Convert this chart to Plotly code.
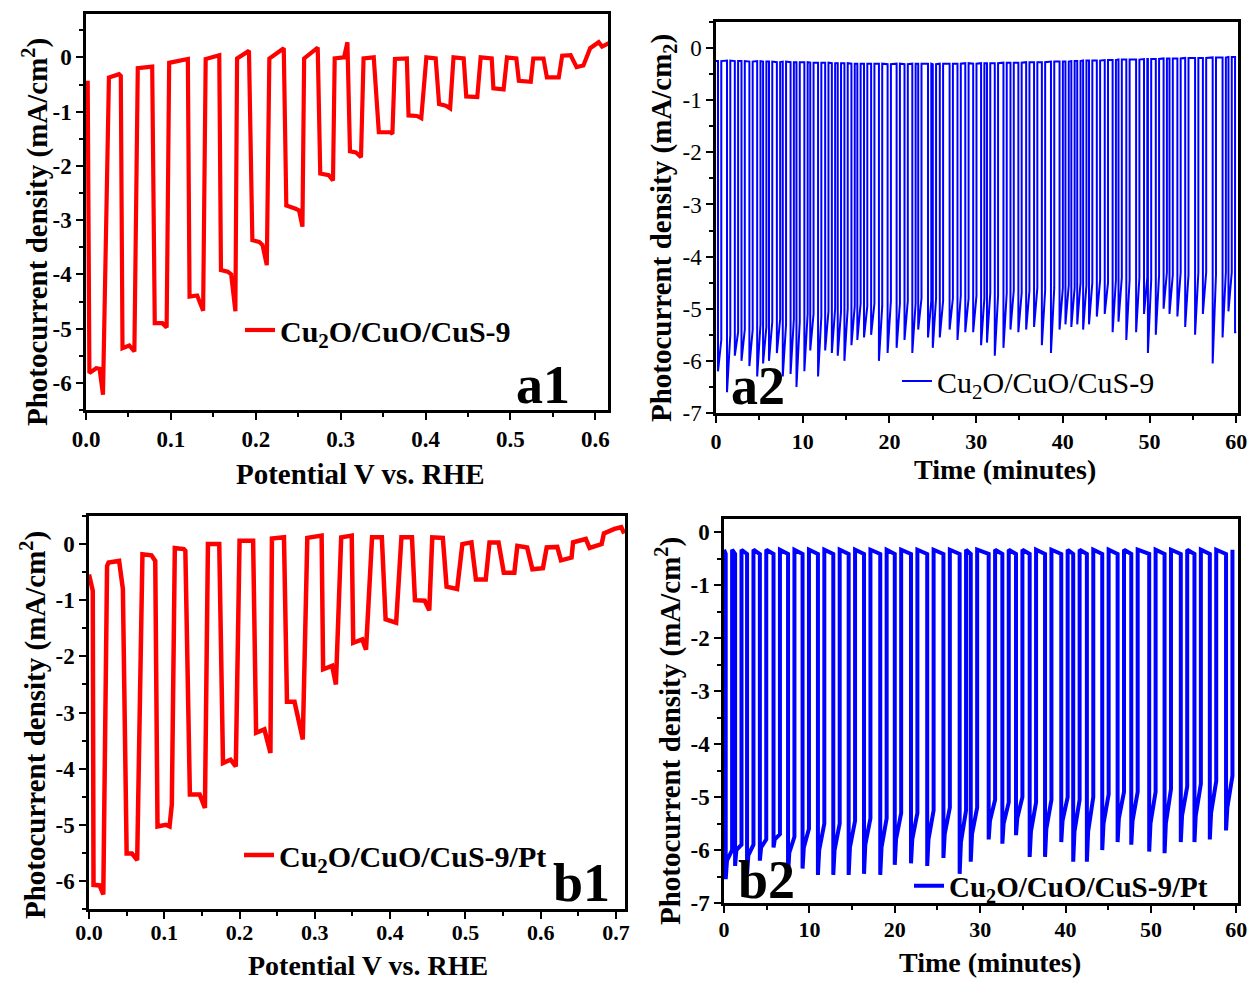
import plotly.graph_objects as go

# ---------------- data ----------------
# (a1) chopped-light LSV, Cu2O/CuO/CuS-9
a1_potential = [0.002, 0.004, 0.012, 0.016, 0.020, 0.027, 0.039, 0.041, 0.043, 0.051, 0.057,
                0.061, 0.078, 0.081, 0.090, 0.095, 0.098, 0.120, 0.122, 0.131, 0.138, 0.141,
                0.157, 0.159, 0.167, 0.171, 0.176, 0.178, 0.192, 0.196, 0.204, 0.208, 0.213,
                0.216, 0.233, 0.236, 0.247, 0.251, 0.255, 0.257, 0.273, 0.276, 0.286, 0.291,
                0.293, 0.304, 0.308, 0.311, 0.318, 0.324, 0.327, 0.339, 0.345, 0.359, 0.361,
                0.364, 0.378, 0.380, 0.390, 0.395, 0.401, 0.412, 0.416, 0.424, 0.429, 0.433,
                0.445, 0.448, 0.461, 0.465, 0.478, 0.480, 0.492, 0.496, 0.507, 0.510, 0.524,
                0.527, 0.539, 0.543, 0.557, 0.561, 0.571, 0.578, 0.586, 0.594, 0.604, 0.608,
                0.612, 0.618]
a1_current = [-0.43, -5.82, -5.73, -5.74, -6.22, -0.37, -0.31, -0.34, -5.36, -5.31, -5.42,
              -0.20, -0.17, -4.90, -4.90, -4.98, -0.10, -0.03, -4.41, -4.39, -4.67, -0.03,
              0.04, -3.92, -3.95, -4.00, -4.68, -0.02, 0.12, -3.37, -3.40, -3.46, -3.83,
              -0.02, 0.17, -2.73, -2.79, -2.82, -3.12, -0.02, 0.18, -2.14, -2.17, -2.27,
              -0.02, 0.00, 0.28, -1.73, -1.75, -1.84, -0.02, 0.00, -1.38, -1.38, -1.41,
              -0.03, -0.02, -1.07, -1.08, -1.12, 0.00, -0.02, -0.86, -0.89, -0.94, 0.00,
              -0.02, -0.72, -0.73, 0.00, -0.02, -0.57, -0.59, 0.00, -0.02, -0.43, -0.45,
              -0.02, -0.02, -0.37, -0.37, 0.03, 0.04, -0.18, -0.15, 0.17, 0.28, 0.20,
              0.23, 0.28]

# (b1) chopped-light LSV, Cu2O/CuO/CuS-9/Pt
b1_potential = [0.000, 0.005, 0.006, 0.014, 0.019, 0.024, 0.026, 0.040, 0.045, 0.050, 0.057,
                0.064, 0.071, 0.083, 0.088, 0.091, 0.102, 0.107, 0.110, 0.114, 0.126, 0.128,
                0.134, 0.147, 0.154, 0.158, 0.173, 0.178, 0.188, 0.195, 0.200, 0.218, 0.222,
                0.233, 0.241, 0.243, 0.259, 0.263, 0.273, 0.284, 0.290, 0.309, 0.311, 0.323,
                0.328, 0.335, 0.349, 0.351, 0.363, 0.368, 0.376, 0.389, 0.394, 0.408, 0.415,
                0.429, 0.433, 0.446, 0.452, 0.456, 0.470, 0.475, 0.489, 0.496, 0.508, 0.514,
                0.527, 0.532, 0.544, 0.551, 0.565, 0.569, 0.582, 0.589, 0.603, 0.608, 0.622,
                0.627, 0.641, 0.643, 0.660, 0.665, 0.681, 0.684, 0.698, 0.707, 0.711]
b1_current = [-0.54, -0.83, -6.07, -6.08, -6.24, -0.39, -0.33, -0.30, -0.80, -5.51, -5.51,
              -5.63, -0.18, -0.20, -0.30, -5.03, -5.00, -5.03, -4.64, -0.07, -0.09, -0.12,
              -4.46, -4.46, -4.70, 0.00, 0.00, -3.90, -3.84, -3.96, 0.06, 0.06, -3.36,
              -3.30, -3.72, 0.10, 0.12, -2.81, -2.81, -3.48, 0.11, 0.15, -2.23, -2.17,
              -2.50, 0.12, 0.15, -1.76, -1.70, -1.88, 0.12, 0.12, -1.34, -1.40, 0.12,
              0.12, -1.00, -1.01, -1.18, 0.12, 0.11, -0.76, -0.80, 0.00, 0.03, -0.63,
              -0.63, 0.03, 0.03, -0.51, -0.51, -0.03, -0.06, -0.45, -0.43, -0.06, -0.05,
              -0.29, -0.24, 0.03, 0.09, -0.07, 0.00, 0.19, 0.27, 0.30, 0.19]

# (a2) chronoamperometry under chopped light, Cu2O/CuO/CuS-9
a2_light_on = [0.23, 1.27, 2.17, 2.94, 3.85, 4.75, 5.43, 6.11, 7.02, 7.70, 8.60, 9.28, 10.19,
               10.87, 11.77, 12.59, 13.36, 14.04, 14.81, 15.62, 16.30, 17.07, 17.89, 18.79,
               19.79, 20.83, 21.74, 22.64, 23.32, 24.45, 25.00, 25.81, 26.94, 27.85, 28.75,
               29.66, 30.57, 31.25, 32.15, 33.15, 33.96, 34.87, 35.77, 36.68, 37.58, 38.63,
               39.62, 40.30, 40.98, 41.66, 42.34, 43.02, 43.92, 44.83, 45.74, 46.42, 47.32,
               48.45, 49.36, 49.81, 50.72, 51.62, 52.30, 53.21, 54.11, 55.25, 56.15, 57.28,
               58.42, 59.10, 59.86]
a2_spike = [-6.20, -6.60, -5.90, -6.00, -6.10, -6.30, -6.05, -6.00, -5.85, -6.30, -6.25, -6.50,
            -6.20, -5.80, -6.30, -5.80, -5.85, -5.90, -6.00, -5.70, -5.60, -5.55, -5.50, -6.00,
            -5.85, -5.75, -5.60, -5.85, -5.40, -5.55, -5.75, -5.55, -5.40, -5.60, -5.45, -5.45,
            -5.70, -5.65, -5.90, -5.75, -5.40, -5.45, -5.40, -5.35, -5.70, -5.85, -5.40, -5.30,
            -5.35, -5.30, -5.40, -5.30, -5.15, -5.10, -5.45, -5.25, -5.60, -5.45, -5.10, -5.85,
            -5.50, -5.00, -5.10, -5.15, -5.35, -5.50, -5.10, -6.05, -5.55, -5.05, -5.45]
a2_light_end = [-5.60, -5.50, -5.45, -5.40, -5.40, -5.30, -5.35, -5.25, -5.20, -5.30, -5.20,
                -5.25, -5.10, -5.10, -5.15, -5.05, -5.00, -5.05, -5.00, -4.95, -4.90, -4.95,
                -4.90, -4.95, -4.85, -4.90, -4.85, -4.90, -4.80, -4.85, -4.80, -4.85, -4.80,
                -4.75, -4.80, -4.75, -4.80, -4.70, -4.75, -4.70, -4.65, -4.70, -4.65, -4.60,
                -4.65, -4.60, -4.60, -4.55, -4.60, -4.50, -4.55, -4.50, -4.45, -4.50, -4.45,
                -4.40, -4.45, -4.40, -4.40, -4.45, -4.35, -4.30, -4.35, -4.30, -4.35, -4.30,
                -4.30, -4.35, -4.30, -4.30, -5.45]
a2_dark = [-0.25, -0.24, -0.25, -0.25, -0.26, -0.25, -0.26, -0.26, -0.27, -0.26, -0.27, -0.27,
           -0.27, -0.28, -0.28, -0.28, -0.29, -0.29, -0.29, -0.30, -0.30, -0.30, -0.30, -0.30,
           -0.31, -0.30, -0.31, -0.30, -0.30, -0.30, -0.31, -0.30, -0.30, -0.30, -0.29, -0.30,
           -0.29, -0.29, -0.29, -0.28, -0.28, -0.28, -0.27, -0.27, -0.27, -0.26, -0.26, -0.26,
           -0.25, -0.25, -0.24, -0.24, -0.24, -0.23, -0.23, -0.22, -0.22, -0.22, -0.21, -0.21,
           -0.21, -0.20, -0.20, -0.20, -0.19, -0.19, -0.19, -0.18, -0.18, -0.17, -0.17]
a2_on_length = 0.38  # minutes of illumination per pulse

# (b2) chronoamperometry under chopped light, Cu2O/CuO/CuS-9/Pt
b2_light_on = [0.20, 1.30, 2.70, 4.20, 5.80, 7.50, 9.20, 11.00, 12.80, 14.60, 16.40, 18.30,
               20.00, 21.90, 23.80, 25.70, 27.60, 28.90, 31.00, 32.60, 34.20, 35.80, 37.60,
               39.50, 40.90, 42.50, 44.30, 46.10, 47.70, 49.80, 51.60, 53.50, 55.10, 56.90,
               58.80]
b2_spike = [-6.55, -6.30, -6.45, -6.20, -5.95, -6.45, -6.35, -6.47, -6.47, -6.47, -6.45, -6.47,
            -6.28, -6.25, -6.30, -6.15, -6.45, -6.22, -5.80, -5.88, -5.72, -6.13, -6.13, -5.85,
            -6.22, -6.22, -6.00, -5.85, -5.90, -6.03, -6.06, -5.85, -5.85, -5.80, -5.63]
b2_knee = [-6.20, -6.00, -6.10, -5.95, -5.80, -6.05, -5.95, -6.00, -6.00, -5.95, -5.90, -5.95,
           -5.80, -5.80, -5.80, -5.70, -5.85, -5.70, -5.45, -5.50, -5.40, -5.65, -5.60, -5.45,
           -5.65, -5.65, -5.50, -5.40, -5.45, -5.50, -5.50, -5.35, -5.35, -5.30, -5.20]
b2_light_end = [-6.00, -5.90, -5.90, -5.80, -5.70, -5.75, -5.60, -5.50, -5.50, -5.45, -5.40,
                -5.40, -5.30, -5.30, -5.25, -5.20, -5.25, -5.20, -5.05, -5.10, -5.00, -5.10,
                -5.05, -5.00, -5.05, -5.00, -4.95, -4.90, -4.90, -4.90, -4.85, -4.80, -4.75,
                -4.70, -4.60]
b2_dark_start = -0.33
b2_dark_end = -0.41
b2_on_length = 0.75
b2_knee_time = 0.15

# tick values
lsv_ticks_a = [0.0, 0.1, 0.2, 0.3, 0.4, 0.5, 0.6]
lsv_ticks_b = [0.0, 0.1, 0.2, 0.3, 0.4, 0.5, 0.6, 0.7]
time_ticks = [0, 10, 20, 30, 40, 50, 60]
j_ticks_6 = [0, -1, -2, -3, -4, -5, -6]
j_ticks_7 = [0, -1, -2, -3, -4, -5, -6, -7]


def pulse_train(t_on, spike, light_end, dark_hi, dark_lo, on_len, t_stop,
                knee=None, knee_dt=0.0):
    """Square-wave photocurrent trace assembled from per-pulse readings."""
    xs, ys = [0.0], [dark_hi[0]]
    for i, t in enumerate(t_on):
        t_off = min(t + on_len, t_stop)
        xs += [t, t]
        ys += [dark_lo[i], spike[i]]
        if knee is not None:
            xs.append(t + knee_dt)
            ys.append(knee[i])
        xs.append(t_off)
        ys.append(light_end[i])
        if t + on_len < t_stop:
            xs.append(t_off)
            ys.append(dark_hi[i])
    return xs, ys


a2_x, a2_y = pulse_train(a2_light_on, a2_spike, a2_light_end, a2_dark, a2_dark,
                         a2_on_length, 60.0)
b2_x, b2_y = pulse_train(b2_light_on, b2_spike, b2_light_end,
                         [b2_dark_start] * len(b2_light_on), [b2_dark_end] * len(b2_light_on),
                         b2_on_length, 60.0, knee=b2_knee, knee_dt=b2_knee_time)

# ---------------- figure ----------------
W, H = 1250, 981
SERIF = "Liberation Serif"


def dom_x(x0, x1):
    return [x0 / W, x1 / W]


def dom_y(y0, y1):
    return [1 - y1 / H, 1 - y0 / H]


fig = go.Figure()

fig.add_trace(go.Scatter(x=a1_potential, y=a1_current, mode="lines",
                         line=dict(color="#ff0000", width=4.2),
                         name="Cu<sub>2</sub>O/CuO/CuS-9", xaxis="x", yaxis="y",
                         legend="legend"))
fig.add_trace(go.Scatter(x=a2_x, y=a2_y, mode="lines",
                         line=dict(color="#0000ff", width=2),
                         name="Cu<sub>2</sub>O/CuO/CuS-9", xaxis="x2", yaxis="y2",
                         legend="legend2"))
fig.add_trace(go.Scatter(x=b1_potential, y=b1_current, mode="lines",
                         line=dict(color="#ff0000", width=4.5),
                         name="Cu<sub>2</sub>O/CuO/CuS-9/Pt", xaxis="x3", yaxis="y3",
                         legend="legend3"))
fig.add_trace(go.Scatter(x=b2_x, y=b2_y, mode="lines",
                         line=dict(color="#0000ff", width=4),
                         name="Cu<sub>2</sub>O/CuO/CuS-9/Pt", xaxis="x4", yaxis="y4",
                         legend="legend4"))

tick_font = dict(family=SERIF, size=23, color="black", weight="bold")
tick_font_plain = dict(family=SERIF, size=23, color="black", weight="normal")
small_tick_font = dict(family=SERIF, size=22, color="black", weight="bold")


def xaxis(domain, rng, ticks, minor, anchor, tfont=tick_font, label_shift=0):
    return dict(domain=domain, range=rng, tickvals=ticks,
                ticktext=[f"{v:.1f}" if isinstance(v, float) else str(v) for v in ticks],
                ticks="outside", ticklen=7, tickwidth=2, tickcolor="black",
                minor=dict(dtick=minor, tick0=0, ticks="outside", ticklen=4, tickwidth=2,
                           tickcolor="black"),
                showline=True, linewidth=2.5, linecolor="black", mirror=True,
                showgrid=False, zeroline=False, tickfont=tfont, anchor=anchor,
                ticklabelstandoff=label_shift, automargin=False)


def yaxis(domain, rng, ticks, anchor, tfont=tick_font):
    return dict(domain=domain, range=rng, tickvals=ticks, ticktext=[str(v) for v in ticks],
                ticks="outside", ticklen=7, tickwidth=2, tickcolor="black",
                minor=dict(dtick=0.5, tick0=0, ticks="outside", ticklen=4, tickwidth=2,
                           tickcolor="black"),
                showline=True, linewidth=2.5, linecolor="black", mirror=True,
                showgrid=False, zeroline=False, tickfont=tfont, anchor=anchor,
                automargin=False)


a1_dx, a1_dy = dom_x(86, 608), dom_y(14, 410)
a2_dx, a2_dy = dom_x(716, 1238), dom_y(22, 413)
b1_dx, b1_dy = dom_x(89, 625), dom_y(516, 909)
b2_dx, b2_dy = dom_x(724, 1238), dom_y(519, 903)

legend_common = dict(bgcolor="rgba(0,0,0,0)", borderwidth=0, xanchor="left",
                     yanchor="middle", itemwidth=30, tracegroupgap=0)


def legend_font(size, weight):
    return dict(family=SERIF, size=size, color="black", weight=weight)


fig.update_layout(
    width=W, height=H, margin=dict(l=0, r=0, t=0, b=0, autoexpand=False),
    paper_bgcolor="white", plot_bgcolor="white",
    xaxis=xaxis(a1_dx, [0, 0.615], lsv_ticks_a, 0.05, "y"),
    yaxis=yaxis(a1_dy, [-6.5, 0.8], j_ticks_6, "x"),
    xaxis2=xaxis(a2_dx, [0, 60.2], time_ticks, 5, "y2", small_tick_font),
    yaxis2=yaxis(a2_dy, [-7, 0.5], j_ticks_7, "x2", tick_font_plain),
    xaxis3=xaxis(b1_dx, [0, 0.712], lsv_ticks_b, 0.05, "y3", small_tick_font, -5),
    yaxis3=yaxis(b1_dy, [-6.5, 0.5], j_ticks_6, "x3"),
    xaxis4=xaxis(b2_dx, [0, 60.2], time_ticks, 5, "y4", small_tick_font, -2),
    yaxis4=yaxis(b2_dy, [-7, 0.25], j_ticks_7, "x4"),
    legend=dict(x=240 / W, y=1 - 330 / H, font=legend_font(30, "bold"), **legend_common),
    legend2=dict(x=897 / W, y=1 - 381 / H, font=legend_font(30, "normal"), **legend_common),
    legend3=dict(x=239 / W, y=1 - 855 / H, font=legend_font(30, "bold"), **legend_common),
    legend4=dict(x=909 / W, y=1 - 886 / H, font=legend_font(29, "bold"), **legend_common),
    showlegend=True,
)

# axis titles
y_title_sup = "Photocurrent density (mA/cm<sup>2</sup>)"
y_title_sub = "Photocurrent density (mA/cm<sub>2</sub>)"
axis_titles = [
    (y_title_sup, 35, 232, -90, 29),
    (y_title_sub, 663, 228, -90, 29),
    (y_title_sup, 33, 725, -90, 29),
    (y_title_sup, 668, 731, -90, 29),
    ("Potential V vs. RHE", 360, 474, 0, 29),
    ("Time (minutes)", 1005, 469, 0, 28),
    ("Potential V vs. RHE", 368, 965, 0, 28),
    ("Time (minutes)", 990, 962, 0, 28),
]
for text, px, py, angle, size in axis_titles:
    fig.add_annotation(text=text, x=px / W, y=1 - py / H, xref="paper", yref="paper",
                       showarrow=False, textangle=angle,
                       font=dict(family=SERIF, size=size, color="black", weight="bold"),
                       xanchor="center", yanchor="middle")

panel_font = dict(family=SERIF, size=54, color="black", weight="bold")
for label, px, py in [("a1", 543, 385), ("a2", 758, 386), ("b1", 581, 883), ("b2", 766, 880)]:
    fig.add_annotation(text=label, x=px / W, y=1 - py / H, xref="paper", yref="paper",
                       showarrow=False, font=panel_font, xanchor="center", yanchor="middle")

fig.write_html("out.html")
